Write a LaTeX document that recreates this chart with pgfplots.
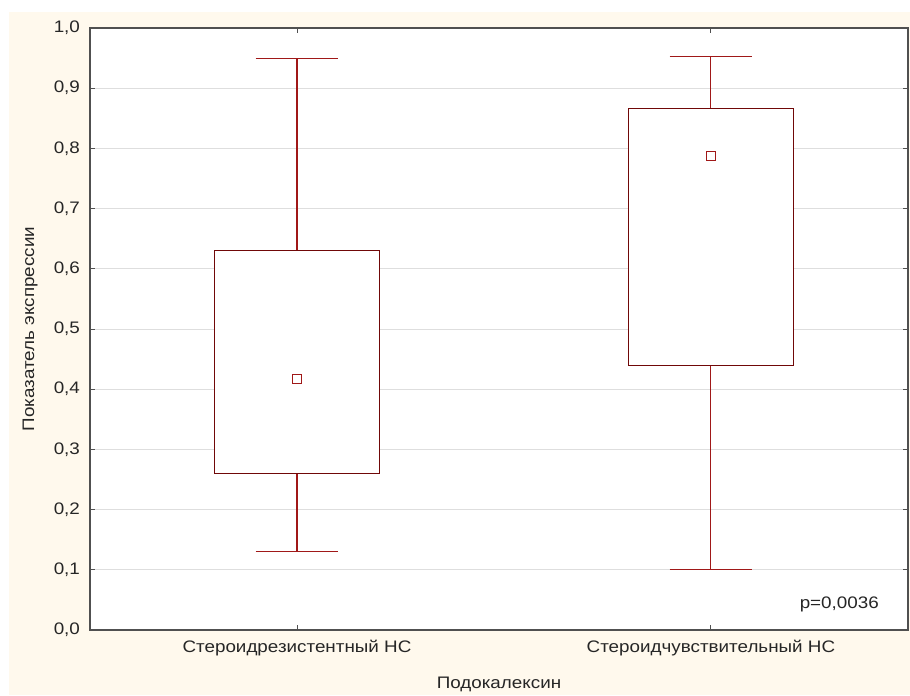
\documentclass[border=0pt]{standalone}
\usepackage{fontspec}
\setmainfont[FakeStretch=1.13]{Liberation Sans}
\usepackage{pgfplots}
\pgfplotsset{compat=1.18}
\usepgfplotslibrary{statistics}
\definecolor{cream}{RGB}{255,249,237}
\definecolor{boxc}{RGB}{112,8,8}
\definecolor{whc}{RGB}{160,24,24}
\definecolor{framec}{RGB}{80,80,80}
\definecolor{gridc}{RGB}{222,222,222}
\begin{document}
\begin{tikzpicture}
\fill[white] (0,0) rectangle (682.5pt,521.25pt);
\fill[cream] (6.75pt,0) rectangle (682.5pt,512.25pt);
\begin{axis}[
  at={(67.5pt,48.75pt)}, anchor=south west,
  scale only axis, width=613.5pt, height=451.5pt,
  xmin=0, xmax=3.952, ymin=0, ymax=1,
  xtick={1,3},
  xticklabels={Стероидрезистентный НС, Стероидчувствительный НС},
  ytick={0,0.1,...,1.0},
  yticklabel style={xshift=-4pt, /pgf/number format/.cd, fixed, fixed zerofill, precision=1, use comma, assume math mode=true},
  xticklabel style={yshift=-4pt},
  tick label style={font=\fontsize{12.5pt}{14pt}\selectfont, text=black!85},
  label style={font=\fontsize{12.5pt}{14pt}\selectfont, text=black!85},
  xlabel={Подокалексин},
  ylabel={Показатель экспрессии},
  xlabel style={at={(axis description cs:0.5,-0.0897)}, anchor=center},
  ylabel style={at={(axis description cs:-0.0733,0.5)}, anchor=center},
  axis line style={framec, line width=0.9pt},
  tick style={framec, line width=0.7pt},
  tick align=inside,
  major tick length=4pt,
  ymajorgrids, grid style={gridc, line width=0.6pt},
  axis background/.style={fill=white},
  boxplot/draw direction=y,
  boxplot/box extend=0.8,
  boxplot/whisker extend=0.4,
  boxplot/every box/.style={draw=boxc, line width=0.8pt, fill=white},
  boxplot/every whisker/.style={draw=whc, line width=0.8pt},
  boxplot/every median/.style={draw=none},
  clip=false,
]
\addplot+[boxplot prepared={draw position=1, lower whisker=0.13, lower quartile=0.26, median=0.417, upper quartile=0.63, upper whisker=0.95}, mark=none] coordinates {};
\addplot+[boxplot prepared={draw position=3, lower whisker=0.10, lower quartile=0.44, median=0.787, upper quartile=0.867, upper whisker=0.953}, mark=none] coordinates {};
\addplot[only marks, mark=square, mark size=3.3pt, mark options={draw=whc, line width=0.9pt, fill=white}] coordinates {(1,0.417) (3,0.787)};
\node[font=\fontsize{12.5pt}{14pt}\selectfont, text=black!85] at (axis cs:3.62,0.043) {p=0,0036};
\end{axis}
\end{tikzpicture}
\end{document}
